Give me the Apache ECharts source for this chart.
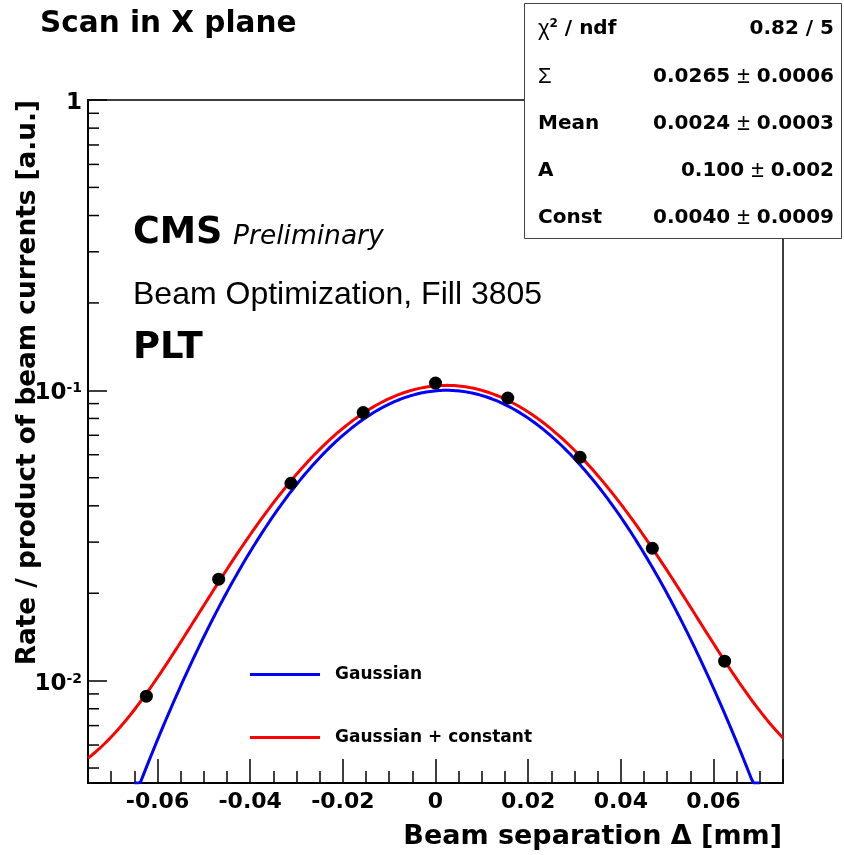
<!DOCTYPE html>
<html>
<head>
<meta charset="utf-8">
<script src="https://cdn.jsdelivr.net/npm/echarts@6/dist/echarts.min.js"></script>
<style>
  html, body { margin: 0; padding: 0; background: #fff; }
  #chart { width: 844px; height: 855px; }
</style>
</head>
<body>
<div id="chart"></div>
<script>
// Measured scan points: beam separation [mm] and normalised rate
const separation = [-0.0624, -0.0468, -0.0312, -0.0156, 0, 0.0156, 0.0312, 0.0468, 0.0624];
const rate = [0.00884, 0.02236, 0.04785, 0.0838, 0.1059, 0.0941, 0.0588, 0.02858, 0.01167];

// Fit results shown in the statistics box
const statNames = ['chi2', 'Σ', 'Mean', 'A', 'Const'];
const statCentral = ['0.82 / 5', '0.0265', '0.0024', '0.100', '0.0040'];
const statErrors = [null, '0.0006', '0.0003', '0.002', '0.0009'];
const fitSigma = 0.0265;
const fitMean = 0.0024;
const fitAmp = 0.100;
const fitConst = 0.0040;

// Function ranges of the two fit curves
const gausRange = [-0.065, 0.07];
const gausConstRange = [-0.075, 0.075];

// Axis ranges and minor tick positions of the log axis
const xRange = [-0.075, 0.075];
const yRange = [0.00444, 1];
const yMinorTicks = [0.005, 0.006, 0.007, 0.008, 0.009,
  0.02, 0.03, 0.04, 0.05, 0.06, 0.07, 0.08, 0.09,
  0.2, 0.3, 0.4, 0.5, 0.6, 0.7, 0.8, 0.9];

function gaus(x) {
  const d = (x - fitMean) / fitSigma;
  return fitAmp * Math.exp(-0.5 * d * d);
}
function sampleCurve(range, withConst) {
  const pts = [];
  const n = 300;
  for (let i = 0; i <= n; i++) {
    const x = range[0] + (range[1] - range[0]) * i / n;
    let y = gaus(x) + (withConst ? fitConst : 0);
    // curves are drawn along the frame where they drop below the axis minimum
    if (y < yRange[0]) y = yRange[0];
    pts.push([x, y]);
  }
  return pts;
}

const BOLD = 'DejaVu Sans';
const REG = 'Liberation Sans';

const chart = echarts.init(document.getElementById('chart'), null, { renderer: 'canvas' });

const statRich = {
  v: { fontFamily: BOLD, fontWeight: 'bold', fontSize: 20, fill: '#000' },
  p: { fontFamily: REG, fontWeight: 'normal', fontSize: 23, fill: '#000' },
  g: { fontFamily: REG, fontWeight: 'normal', fontSize: 22, fill: '#000' },
  sup: { fontFamily: BOLD, fontWeight: 'bold', fontSize: 12, fill: '#000', verticalAlign: 'top', padding: [0, 0, 8, 0] }
};
const statGraphics = [{
  type: 'rect', z: 100,
  shape: { x: 524.5, y: 3.5, width: 317, height: 235 },
  style: { fill: '#fff', stroke: '#444', lineWidth: 1 }
}];
const rowY = [29, 76.5, 124, 171, 217.5];
statNames.forEach((name, i) => {
  let label;
  if (name === 'chi2') label = '{g|χ}{sup|2}{v| / ndf}';
  else if (name === 'Σ') label = '{g|Σ}';
  else label = '{v|' + name + '}';
  statGraphics.push({
    type: 'text', z: 101, x: 538, y: rowY[i],
    style: {
      text: label, rich: statRich,
      align: 'left', verticalAlign: 'middle', textAlign: 'left', textVerticalAlign: 'middle'
    }
  });
  const txt = statErrors[i] === null
    ? '{v|' + statCentral[i] + '}'
    : '{v|' + statCentral[i] + ' }{p|±}{v| ' + statErrors[i] + '}';
  statGraphics.push({
    type: 'text', z: 101, x: 834, y: rowY[i],
    style: {
      text: txt, rich: statRich,
      align: 'right', verticalAlign: 'middle', textAlign: 'right', textVerticalAlign: 'middle'
    }
  });
});

const option = {
  backgroundColor: '#fff',
  animation: false,
  grid: { left: 88, top: 100, right: 61, bottom: 72, show: true, borderColor: '#000', borderWidth: 1.5, containLabel: false },
  xAxis: {
    type: 'value', min: xRange[0], max: xRange[1], splitNumber: 7,
    axisLine: { show: true, onZero: false, lineStyle: { color: '#000', width: 2 } },
    axisTick: { show: true, inside: true, length: 24, lineStyle: { color: '#000', width: 1.5 } },
    minorTick: { show: true, splitNumber: 4, length: 12, lineStyle: { color: '#000', width: 1.5 } },
    splitLine: { show: false },
    axisLabel: {
      showMinLabel: false, showMaxLabel: false, margin: 8,
      fontFamily: BOLD, fontWeight: 'bold', fontSize: 22, color: '#000',
      formatter: v => String(Number(v.toFixed(3)))
    }
  },
  yAxis: {
    type: 'log', logBase: 10, min: yRange[0], max: yRange[1],
    axisLine: { show: true, onZero: false, lineStyle: { color: '#000', width: 2 } },
    axisTick: { show: true, inside: true, length: 19, lineStyle: { color: '#000', width: 1.5 } },
    splitLine: { show: false },
    axisLabel: {
      showMinLabel: false, margin: 6, padding: [7, 0, 0, 0],
      formatter: v => {
        const e = Math.round(Math.log10(v));
        if (Math.abs(Math.log10(v) - e) > 1e-6) return '';
        if (e === 0) return '{b|1}';
        return '{b|10}{s|' + e + '}';
      },
      rich: {
        b: { fontFamily: BOLD, fontWeight: 'bold', fontSize: 23, color: '#000', verticalAlign: 'top', lineHeight: 24 },
        s: { fontFamily: BOLD, fontWeight: 'bold', fontSize: 14, color: '#000', verticalAlign: 'top', lineHeight: 24 }
      }
    }
  },
  legend: [
    {
      left: 250, top: 666, orient: 'vertical', padding: 0,
      itemWidth: 70, itemHeight: 3,
      data: [{ name: 'Gaussian', icon: 'rect' }],
      textStyle: { fontFamily: BOLD, fontWeight: 'bold', fontSize: 17, color: '#000', padding: [20, 0, 0, 10] }
    },
    {
      left: 250, top: 729, orient: 'vertical', padding: 0,
      itemWidth: 70, itemHeight: 3,
      data: [{ name: 'Gaussian + constant', icon: 'rect' }],
      textStyle: { fontFamily: BOLD, fontWeight: 'bold', fontSize: 17, color: '#000', padding: [20, 0, 0, 10] }
    }
  ],
  series: [
    {
      type: 'custom', name: 'minor', silent: true, clip: false, z: 5,
      data: yMinorTicks.map(v => [xRange[0], v]),
      renderItem: (params, api) => {
        const p = api.coord([api.value(0), api.value(1)]);
        return {
          type: 'line',
          shape: { x1: p[0], y1: p[1], x2: p[0] + 11, y2: p[1] },
          style: { stroke: '#000', lineWidth: 1.5 }
        };
      }
    },
    {
      type: 'line', name: 'Gaussian', data: sampleCurve(gausRange, false),
      showSymbol: false, symbol: 'none', clip: true, z: 3,
      lineStyle: { color: '#0000ff', width: 3 }, itemStyle: { color: '#0000ff' }
    },
    {
      type: 'line', name: 'Gaussian + constant', data: sampleCurve(gausConstRange, true),
      showSymbol: false, symbol: 'none', clip: true, z: 4,
      lineStyle: { color: '#ff0000', width: 3 }, itemStyle: { color: '#ff0000' }
    },
    {
      type: 'scatter', name: 'Data', z: 6,
      data: separation.map((x, i) => [x, rate[i]]),
      symbol: 'circle', symbolSize: 13,
      itemStyle: { color: '#000', opacity: 1 }
    }
  ],
  graphic: [
    {
      type: 'text', x: 40, y: 24,
      style: { text: 'Scan in X plane', fontFamily: BOLD, fontWeight: 'bold', fontSize: 29.5, fill: '#000',
        align: 'left', verticalAlign: 'middle', textAlign: 'left', textVerticalAlign: 'middle' }
    },
    {
      type: 'text', x: 28, y: 100, rotation: Math.PI / 2,
      style: { text: 'Rate / product of beam currents [a.u.]', fontFamily: BOLD, fontWeight: 'bold', fontSize: 26.3, fill: '#000',
        align: 'right', verticalAlign: 'middle', textAlign: 'right', textVerticalAlign: 'middle' }
    },
    {
      type: 'text', x: 782, y: 837,
      style: { text: 'Beam separation Δ [mm]', fontFamily: BOLD, fontWeight: 'bold', fontSize: 27, fill: '#000',
        align: 'right', verticalAlign: 'middle', textAlign: 'right', textVerticalAlign: 'middle' }
    },
    {
      type: 'text', x: 133, y: 234,
      style: { text: 'CMS', fontFamily: BOLD, fontWeight: 'bold', fontSize: 36.5, fill: '#000',
        align: 'left', verticalAlign: 'middle', textAlign: 'left', textVerticalAlign: 'middle' }
    },
    {
      type: 'text', x: 233, y: 237,
      style: { text: 'Preliminary', fontFamily: BOLD, fontStyle: 'italic', fontSize: 26.5, fill: '#000',
        align: 'left', verticalAlign: 'middle', textAlign: 'left', textVerticalAlign: 'middle' }
    },
    {
      type: 'text', x: 133, y: 295,
      style: { text: 'Beam Optimization, Fill 3805', fontFamily: REG, fontSize: 32, fill: '#000',
        align: 'left', verticalAlign: 'middle', textAlign: 'left', textVerticalAlign: 'middle' }
    },
    {
      type: 'text', x: 133, y: 348,
      style: { text: 'PLT', fontFamily: BOLD, fontWeight: 'bold', fontSize: 37, fill: '#000',
        align: 'left', verticalAlign: 'middle', textAlign: 'left', textVerticalAlign: 'middle' }
    }
  ].concat(statGraphics)
};

chart.setOption(option);
</script>
</body>
</html>
